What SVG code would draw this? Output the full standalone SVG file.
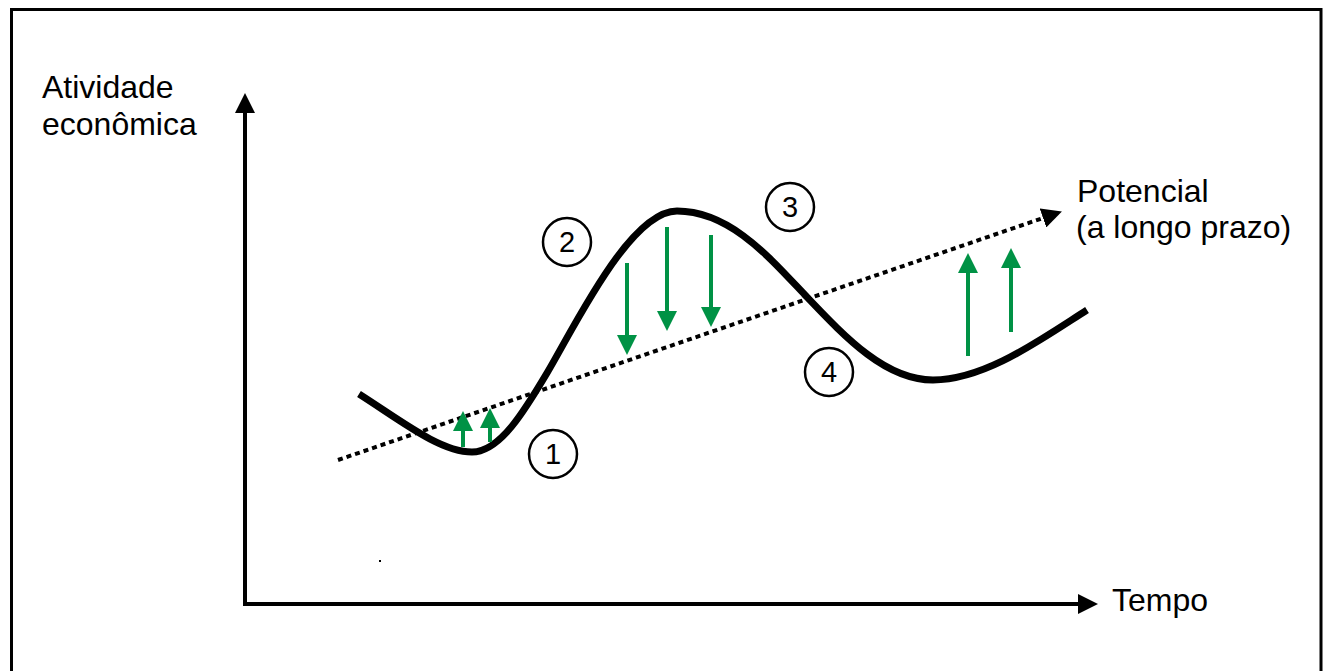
<svg xmlns="http://www.w3.org/2000/svg" width="1328" height="671" viewBox="0 0 1328 671">
  <style>
    .lbl { font-family: "Liberation Sans", Arial, sans-serif; font-size: 32px; fill: #000; }
    .num { font-family: "Liberation Sans", Arial, sans-serif; font-size: 29px; fill: #000; text-anchor: middle; }
    .circ { fill: none; stroke: #000; stroke-width: 2.5; }
    .axis { stroke: #000; stroke-width: 4; fill: none; }
    .green { stroke: #009245; stroke-width: 4; fill: none; }
  </style>
  <defs>
    <marker id="ahBlack" markerUnits="userSpaceOnUse" markerWidth="20" markerHeight="20" refX="0" refY="10" orient="auto" viewBox="0 0 20 20">
      <path d="M0,0 L20,10 L0,20 z" fill="#000"/>
    </marker>
    <marker id="ahGreen" markerUnits="userSpaceOnUse" markerWidth="20" markerHeight="20" refX="0" refY="10" orient="auto" viewBox="0 0 20 20">
      <path d="M0,0 L20,10 L0,20 z" fill="#009245"/>
    </marker>
  </defs>
  <rect width="1328" height="671" fill="#fff"/>
  <rect id="frame" x="11.5" y="9.5" width="1309.5" height="700" fill="none" stroke="#000" stroke-width="3"/>

  <g id="labels">
    <text class="lbl" x="42" y="98">Atividade</text>
    <text class="lbl" x="42" y="135">econômica</text>
    <text class="lbl" x="1077" y="202">Potencial</text>
    <text class="lbl" x="1076" y="238">(a longo prazo)</text>
    <text class="lbl" x="1112" y="611">Tempo</text>
  </g>

  <g id="connectors">
    <line id="y-axis" class="axis" x1="245" y1="606" x2="245" y2="113" marker-end="url(#ahBlack)"/>
    <line id="x-axis" class="axis" x1="243" y1="604" x2="1078" y2="604" marker-end="url(#ahBlack)"/>
    <line id="potential" x1="338" y1="460" x2="1043" y2="218" stroke="#000" stroke-width="4" stroke-dasharray="5,4" marker-end="url(#ahBlack)"/>
    <path id="cycle" d="M359,394 C400,420 440,452 472,452 C500,452 525,410 547,373 C575,326 630,211 677,211 C730,211 770,258 805,295 C845,337 885,380 933,380 C985,380 1040,340 1087,310" fill="none" stroke="#000" stroke-width="7" stroke-linecap="butt"/>
    <line class="green" x1="463" y1="447" x2="463" y2="431" marker-end="url(#ahGreen)"/>
    <line class="green" x1="490" y1="442" x2="490" y2="428" marker-end="url(#ahGreen)"/>
    <line class="green" x1="627" y1="263" x2="627" y2="335" marker-end="url(#ahGreen)"/>
    <line class="green" x1="667" y1="227" x2="667" y2="311" marker-end="url(#ahGreen)"/>
    <line class="green" x1="711" y1="235" x2="711" y2="307" marker-end="url(#ahGreen)"/>
    <line class="green" x1="968" y1="356" x2="968" y2="273" marker-end="url(#ahGreen)"/>
    <line class="green" x1="1011" y1="332" x2="1011" y2="268" marker-end="url(#ahGreen)"/>
  </g>

  <g id="phase1">
    <circle class="circ" cx="553" cy="454" r="24"/>
    <text class="num" x="553" y="464">1</text>
  </g>
  <g id="phase2">
    <circle class="circ" cx="567" cy="242" r="24"/>
    <text class="num" x="567" y="252">2</text>
  </g>
  <g id="phase3">
    <circle class="circ" cx="790" cy="207" r="24"/>
    <text class="num" x="790" y="217">3</text>
  </g>
  <g id="phase4">
    <circle class="circ" cx="829" cy="372" r="24"/>
    <text class="num" x="829" y="382">4</text>
  </g>

  <rect x="379" y="560" width="2" height="2" fill="#000"/>
</svg>
